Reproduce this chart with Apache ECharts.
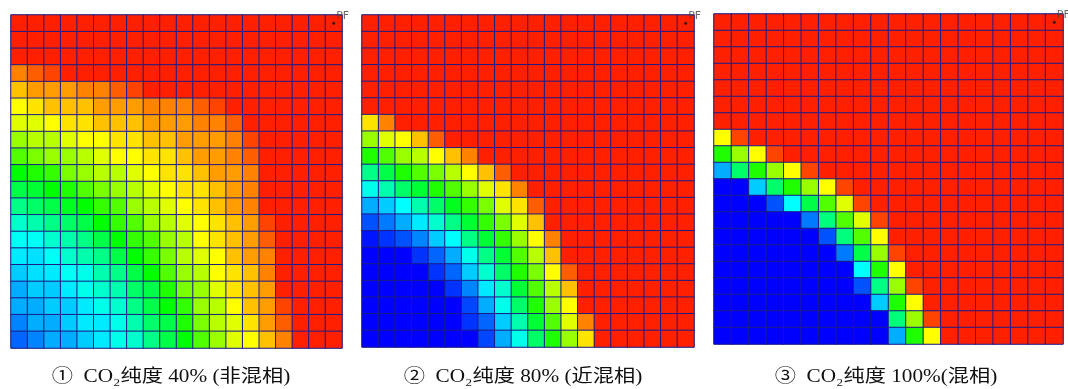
<!DOCTYPE html>
<html><head><meta charset="utf-8">
<script src="https://cdn.jsdelivr.net/npm/echarts@6/dist/echarts.min.js"></script>
<style>html,body{margin:0;padding:0;background:#fff}#c{width:1068px;height:389px}</style>
</head><body><div id="c"></div>
<script>
// grid cell indices (20 x 20 simulation grid)
const cellIndex = [0,1,2,3,4,5,6,7,8,9,10,11,12,13,14,15,16,17,18,19];

// values (0 = blue ... 100 = red), rows listed top to bottom
const panel1 = [
 [100,100,100,100,100,100,100,100,100,100,100,100,100,100,100,100,100,100,100,100],
 [100,100,100,100,100,100,100,100,100,100,100,100,100,100,100,100,100,100,100,100],
 [100,100,100,100,100,100,100,100,100,100,100,100,100,100,100,100,100,100,100,100],
 [89,93,96,100,100,100,100,100,100,100,100,100,100,100,100,100,100,100,100,100],
 [82,86,86,86,89,89,93,96,100,100,100,100,100,100,100,100,100,100,100,100],
 [75,78,82,82,82,86,86,86,89,89,89,93,96,100,100,100,100,100,100,100],
 [72,72,75,78,78,82,82,82,86,86,86,89,89,93,100,100,100,100,100,100],
 [65,68,68,72,75,75,78,78,82,82,86,86,86,89,96,100,100,100,100,100],
 [58,62,65,65,68,72,75,75,78,78,82,86,86,89,93,100,100,100,100,100],
 [50,53,55,62,65,68,68,72,75,78,78,82,86,86,89,100,100,100,100,100],
 [43,45,50,53,58,62,65,68,72,75,78,78,82,86,89,100,100,100,100,100],
 [37,40,43,47,50,55,58,65,68,72,75,78,82,86,89,100,100,100,100,100],
 [30,33,37,40,43,50,55,58,65,68,72,75,78,82,86,96,100,100,100,100],
 [26,26,30,33,37,43,50,55,58,65,68,75,78,82,86,93,100,100,100,100],
 [23,22,26,30,33,37,43,50,55,62,68,72,75,82,86,89,100,100,100,100],
 [20,22,23,26,27,33,37,43,50,58,65,68,75,78,82,89,100,100,100,100],
 [17,20,20,23,27,30,33,40,43,53,62,65,72,78,82,86,100,100,100,100],
 [17,17,20,20,23,27,30,37,43,50,55,65,68,75,82,86,96,100,100,100],
 [13,17,17,20,23,23,27,33,40,43,53,62,68,72,78,86,93,100,100,100],
 [10,13,17,17,20,23,27,30,37,43,50,58,65,72,75,82,89,100,100,100]
];
const panel2 = [
 [100,100,100,100,100,100,100,100,100,100,100,100,100,100,100,100,100,100,100,100],
 [100,100,100,100,100,100,100,100,100,100,100,100,100,100,100,100,100,100,100,100],
 [100,100,100,100,100,100,100,100,100,100,100,100,100,100,100,100,100,100,100,100],
 [100,100,100,100,100,100,100,100,100,100,100,100,100,100,100,100,100,100,100,100],
 [100,100,100,100,100,100,100,100,100,100,100,100,100,100,100,100,100,100,100,100],
 [100,100,100,100,100,100,100,100,100,100,100,100,100,100,100,100,100,100,100,100],
 [78,89,100,100,100,100,100,100,100,100,100,100,100,100,100,100,100,100,100,100],
 [65,72,75,82,93,100,100,100,100,100,100,100,100,100,100,100,100,100,100,100],
 [53,58,65,68,75,82,89,100,100,100,100,100,100,100,100,100,100,100,100,100],
 [37,43,53,58,62,68,75,82,93,100,100,100,100,100,100,100,100,100,100,100],
 [27,33,40,45,53,58,65,72,78,89,100,100,100,100,100,100,100,100,100,100],
 [17,20,25,33,40,47,55,62,72,78,93,100,100,100,100,100,100,100,100,100],
 [8,12,17,23,30,37,45,55,62,72,82,100,100,100,100,100,100,100,100,100],
 [2,5,8,13,20,25,37,45,55,65,75,89,100,100,100,100,100,100,100,100],
 [0,0,0,5,10,17,27,37,45,58,68,82,100,100,100,100,100,100,100,100],
 [0,0,0,0,5,10,20,30,40,53,62,75,93,100,100,100,100,100,100,100],
 [0,0,0,0,0,5,13,23,30,45,58,68,82,100,100,100,100,100,100,100],
 [0,0,0,0,0,0,7,17,27,40,53,65,75,100,100,100,100,100,100,100],
 [0,0,0,0,0,0,5,10,20,33,45,58,72,89,100,100,100,100,100,100],
 [0,0,0,0,0,0,0,7,17,27,40,53,65,78,100,100,100,100,100,100]
];
const panel3 = [
 [100,100,100,100,100,100,100,100,100,100,100,100,100,100,100,100,100,100,100,100],
 [100,100,100,100,100,100,100,100,100,100,100,100,100,100,100,100,100,100,100,100],
 [100,100,100,100,100,100,100,100,100,100,100,100,100,100,100,100,100,100,100,100],
 [100,100,100,100,100,100,100,100,100,100,100,100,100,100,100,100,100,100,100,100],
 [100,100,100,100,100,100,100,100,100,100,100,100,100,100,100,100,100,100,100,100],
 [100,100,100,100,100,100,100,100,100,100,100,100,100,100,100,100,100,100,100,100],
 [100,100,100,100,100,100,100,100,100,100,100,100,100,100,100,100,100,100,100,100],
 [75,96,100,100,100,100,100,100,100,100,100,100,100,100,100,100,100,100,100,100],
 [53,65,75,96,100,100,100,100,100,100,100,100,100,100,100,100,100,100,100,100],
 [17,40,53,65,75,96,100,100,100,100,100,100,100,100,100,100,100,100,100,100],
 [0,0,20,40,53,65,75,96,100,100,100,100,100,100,100,100,100,100,100,100],
 [0,0,0,8,25,43,58,72,96,100,100,100,100,100,100,100,100,100,100,100],
 [0,0,0,0,0,12,38,58,72,96,100,100,100,100,100,100,100,100,100,100],
 [0,0,0,0,0,0,8,38,58,75,100,100,100,100,100,100,100,100,100,100],
 [0,0,0,0,0,0,0,12,43,65,96,100,100,100,100,100,100,100,100,100],
 [0,0,0,0,0,0,0,0,25,53,75,100,100,100,100,100,100,100,100,100],
 [0,0,0,0,0,0,0,0,8,37,65,96,100,100,100,100,100,100,100,100],
 [0,0,0,0,0,0,0,0,0,20,53,75,100,100,100,100,100,100,100,100],
 [0,0,0,0,0,0,0,0,0,0,38,65,96,100,100,100,100,100,100,100],
 [0,0,0,0,0,0,0,0,0,0,17,53,75,100,100,100,100,100,100,100]
];

// well marker
const wellNames = ['PF'];
const wellCol = [19];
const wellRow = [0];

const captions = ['①  CO₂纯度 40% (非混相)', '②  CO₂纯度 80% (近混相)', '③  CO₂纯度 100%(混相)'];

const panels = [panel1, panel2, panel3];
const grids = [
  {left: 11, top: 15, width: 331, height: 333},
  {left: 362, top: 15, width: 332, height: 332},
  {left: 714, top: 14, width: 349, height: 330}
];
const captionX = [171, 523, 886];
const captionY = 377;

function toData(p) {
  const out = [];
  p.forEach((row, r) => row.forEach((v, c) => out.push([c, r, v])));
  return out;
}

const chart = echarts.init(document.getElementById('c'), null, {renderer: 'canvas'});
const option = {
  animation: false,
  backgroundColor: '#ffffff',
  grid: grids.map(g => Object.assign({show: true, borderColor: '#9a9acc', borderWidth: 1, backgroundColor: 'transparent', containLabel: false}, g)),
  xAxis: grids.map((g, i) => ({type: 'category', gridIndex: i, data: cellIndex, show: false})),
  yAxis: grids.map((g, i) => ({type: 'category', gridIndex: i, data: cellIndex, inverse: true, show: false})),
  visualMap: {
    show: false, type: 'continuous', min: 0, max: 100, seriesIndex: [0, 1, 2],
    inRange: {color: ['#0000ff', '#00ffff', '#00ff00', '#ffff00', '#ff2000']}
  },
  series: [
    ...panels.map((p, i) => ({
      type: 'heatmap', xAxisIndex: i, yAxisIndex: i, data: toData(p),
      itemStyle: {borderColor: '#1c1c86', borderWidth: 1},
      emphasis: {disabled: true}, silent: true
    })),
    ...panels.map((p, i) => ({
      type: 'scatter', xAxisIndex: i, yAxisIndex: i,
      data: wellNames.map((n, k) => ({value: [wellCol[k], wellRow[k]], name: n})),
      symbol: 'circle', symbolSize: 3, itemStyle: {color: '#111'}, silent: true,
      label: {show: true, formatter: '{b}', position: 'right', distance: 1, offset: [0, -7],
        color: '#444', fontSize: 11, fontFamily: 'DejaVu Sans, sans-serif'}
    }))
  ],
  graphic: captions.map((t, i) => ({
    type: 'text', x: captionX[i], y: captionY, scaleX: 1.18, silent: true,
    style: {text: t, align: 'center', verticalAlign: 'middle', fontSize: 18,
      fontFamily: '"Liberation Serif", "Noto Sans CJK SC", serif', fill: '#111'}
  }))
};
chart.setOption(option);
</script>
</body></html>
